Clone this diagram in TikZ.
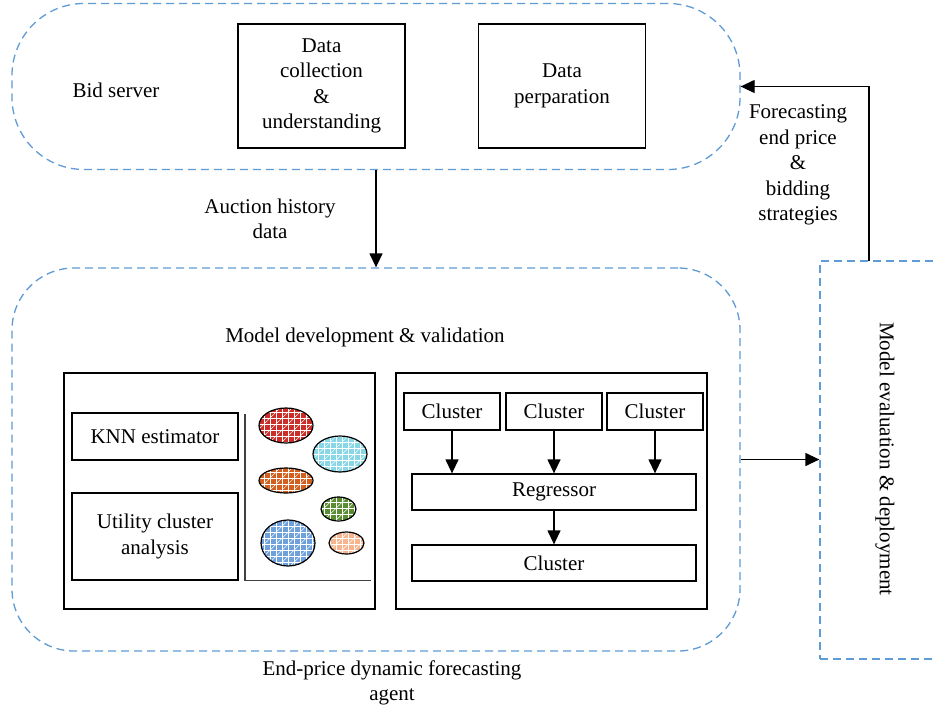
\documentclass[tikz,border=0pt]{standalone}
\usepackage{fontspec}
\setmainfont{Liberation Serif}
\usetikzlibrary{arrows.meta,shapes.geometric,patterns.meta}
\definecolor{dashblue}{RGB}{95,155,213}
\definecolor{cred}{RGB}{205,45,40}
\definecolor{ccyan}{RGB}{135,215,230}
\definecolor{corange}{RGB}{210,95,30}
\definecolor{cgreen}{RGB}{90,140,50}
\definecolor{cblue}{RGB}{110,160,220}
\definecolor{cpeach}{RGB}{248,180,140}
\tikzset{
  dashbox/.style={draw=dashblue, line width=1.3pt, dash pattern=on 8pt off 5pt},
  box/.style={draw=black, line width=1.3pt, inner sep=0pt, align=center},
  txt/.style={inner sep=0pt, align=center},
  arr/.style={line width=1.3pt, -{Triangle[length=14pt,width=13pt]}},
  ell/.style={ellipse, inner sep=0pt, draw=black, line width=1.2pt,
    preaction={fill=#1},
    preaction={pattern={Lines[angle=0,distance=6pt,line width=0.6pt]}, pattern color=white},
    preaction={pattern={Lines[angle=90,distance=6pt,line width=0.6pt]}, pattern color=white},
    preaction={pattern={Lines[angle=45,distance=8.5pt,line width=0.5pt]}, pattern color=white}},
}
\begin{document}
\begin{tikzpicture}[x=1pt,y=-1pt,font=\fontsize{21}{25.5}\selectfont]
\useasboundingbox (0,0) rectangle (933,712);
\clip (0,0) rectangle (933,712);
\fill[white] (0,0) rectangle (933,712);

% top server box
\node[dashbox, rounded corners=72pt, minimum width=728pt, minimum height=166pt] (top) at (376,86.5) {};
\node[txt] (bid) at (116,90) {Bid server};
\node[box, minimum width=167pt, minimum height=124pt] (dc) at (321.5,86) {Data\\collection\\\&\\understanding};
\node[box, minimum width=167pt, minimum height=124pt] (dp) at (562,86) {Data\\perparation};

% lower agent box
\node[dashbox, rounded corners=62pt, minimum width=728pt, minimum height=383pt] (low) at (376,459.5) {};
\node[txt] (mdv) at (365,337) {Model development \& validation};
\node[txt] (agent) at (392,683) {End-price dynamic forecasting\\agent};

% evaluation box
\node[dashbox, minimum width=150pt, minimum height=398pt, inner sep=0pt] (eval) at (895,460) {};
\node[txt, rotate=-90] (evtxt) at (885,459) {Model evaluation \& deployment};

% connectors
\draw[arr] (top.south) -- (low.north);
\node[txt] (ahd) at (270,219) {Auction history\\data};
\draw[arr] (low.east) -- (low.east -| eval.west);
\coordinate (fb) at (869,261);
\draw[arr] (fb) |- (top.east);
\node[txt] (fc) at (798,165) {Forecasting\\end price\\\&\\bidding\\strategies};

% left inner panel
\node[box, minimum width=311pt, minimum height=236pt] (lp) at (219.5,491) {};
\node[box, minimum width=166pt, minimum height=47pt] (knn) at (155,436.5) {KNN estimator};
\node[box, minimum width=166pt, minimum height=87pt] (uca) at (155,536.5) {Utility cluster\\analysis};
\draw[line width=1.6pt, black!75] (245,414) -- (245,580.5) -- (371,580.5);
\node[ell=cred, minimum width=54pt, minimum height=35pt] (e1) at (286,425.5) {};
\node[ell=ccyan, minimum width=54pt, minimum height=36pt] (e2) at (340,454) {};
\node[ell=corange, minimum width=54pt, minimum height=25pt] (e3) at (286,480.5) {};
\node[ell=cgreen, minimum width=35pt, minimum height=24pt] (e4) at (338.5,509) {};
\node[ell=cblue, minimum width=54pt, minimum height=46pt] (e5) at (288,543) {};
\node[ell=cpeach, minimum width=35pt, minimum height=22pt] (e6) at (346.5,543) {};

% right inner panel
\node[box, minimum width=311pt, minimum height=236pt] (rp) at (551.5,491) {};
\node[box, minimum width=96pt, minimum height=37pt] (c1) at (452,411.5) {Cluster};
\node[box, minimum width=96pt, minimum height=37pt] (c2) at (554,411.5) {Cluster};
\node[box, minimum width=96pt, minimum height=37pt] (c3) at (655,411.5) {Cluster};
\node[box, minimum width=284pt, minimum height=36pt] (reg) at (554,492) {Regressor};
\node[box, minimum width=284pt, minimum height=36pt] (cl) at (554,563) {Cluster};
\draw[arr] (c1.south) -- (c1.south |- reg.north);
\draw[arr] (c2.south) -- (c2.south |- reg.north);
\draw[arr] (c3.south) -- (c3.south |- reg.north);
\draw[arr] (reg.south) -- (cl.north);
\end{tikzpicture}
\end{document}
